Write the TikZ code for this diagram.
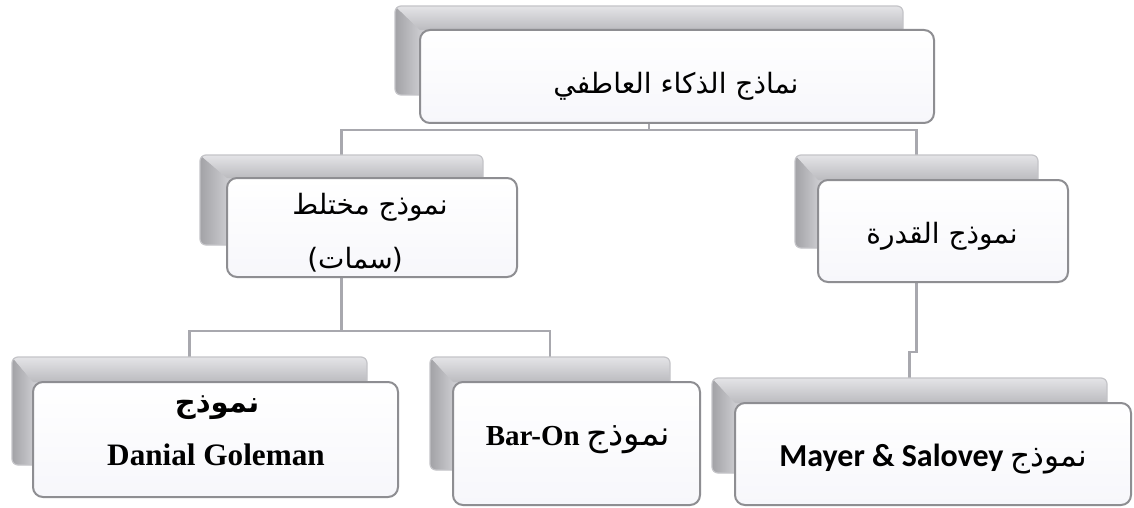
\documentclass[tikz,border=0pt]{standalone}
\usepackage{fontspec}
\usetikzlibrary{calc}
\TeXXeTstate=1
\newfontfamily\arabicfont[Script=Arabic]{DejaVu Sans}
\newfontfamily\plainsans{DejaVu Sans}
\newfontfamily\timesfont{Liberation Serif}
\newfontfamily\calibrifont{Carlito}
\definecolor{conncol}{HTML}{A8A8AE}
\definecolor{frontborder}{HTML}{8E8E92}
\definecolor{frontfill}{HTML}{F7F7FB}
\definecolor{backdark}{HTML}{A2A2A6}
\definecolor{backmid}{HTML}{CBCBCF}
\definecolor{backedge}{HTML}{C4C4C8}
\definecolor{bevtop}{HTML}{E4E4E7}
\definecolor{bevbot}{HTML}{BBBBBF}
\pgfdeclarelayer{bg}
\pgfsetlayers{bg,main}
\newcommand\mybevel[2]{%
  \begin{scope}
    \clip[rounded corners=3pt] (#1.north west) rectangle (#1.south east);
    \fill[backmid] (#1.north west) rectangle (#1.south east);
    \shade[left color=backdark, right color=backmid] (#1.north west) -- (#2.north west) -- (#2.north west |- #1.south) -- (#1.south west) -- cycle;
    \shade[top color=bevtop, bottom color=bevbot] (#1.north west) -- (#1.north east) -- (#1.north east |- #2.north) -- (#2.north west) -- cycle;
  \end{scope}
  \draw[backedge, line width=0.6pt, rounded corners=3pt] (#1.north west) rectangle (#1.south east);
}
\begin{document}
\begin{tikzpicture}[x=0.5pt,y=-0.5pt,
  backbox/.style={inner sep=0pt, outer sep=0pt},
  frontbox/.style={draw=frontborder, line width=1pt, rounded corners=5pt, top color=white, bottom color=frontfill, inner sep=0pt, outer sep=0pt},
  conn/.style={draw=conncol, line width=1.1pt},
  txt/.style={inner sep=0pt, align=center},
  ar/.style={font=\arabicfont\fontsize{14}{27.5}\selectfont}
]
\begin{pgfonlayer}{bg}
\useasboundingbox[fill=white] (0,0) rectangle (1134,508);
\end{pgfonlayer}

% back boxes
\node[backbox, minimum width=254pt, minimum height=44.5pt] (topb) at (649,50.5) {};
\node[backbox, minimum width=141.5pt, minimum height=45pt] (mlb) at (341.5,200) {};
\node[backbox, minimum width=121.5pt, minimum height=46.5pt] (mrb) at (916.5,201.5) {};
\node[backbox, minimum width=177.5pt, minimum height=54pt] (glb) at (189.5,411) {};
\node[backbox, minimum width=120pt, minimum height=56.5pt] (bob) at (550,413.5) {};
\node[backbox, minimum width=197.5pt, minimum height=47.5pt] (mab) at (909.5,425.5) {};

% front box geometry
\path (677,76.5) node[minimum width=257pt, minimum height=46.5pt, inner sep=0pt, outer sep=0pt] (top) {};
\path (372,227.5) node[minimum width=145pt, minimum height=49.5pt, inner sep=0pt, outer sep=0pt] (ml) {};
\path (943,231) node[minimum width=125pt, minimum height=51pt, inner sep=0pt, outer sep=0pt] (mr) {};
\path (215.5,439.5) node[minimum width=182.5pt, minimum height=57.5pt, inner sep=0pt, outer sep=0pt] (gl) {};
\path (576.5,443.5) node[minimum width=123.5pt, minimum height=61.5pt, inner sep=0pt, outer sep=0pt] (bo) {};
\path (933,454) node[minimum width=198pt, minimum height=51pt, inner sep=0pt, outer sep=0pt] (ma) {};

\mybevel{topb}{top}
\mybevel{mlb}{ml}
\mybevel{mrb}{mr}
\mybevel{glb}{gl}
\mybevel{bob}{bo}
\mybevel{mab}{ma}

\coordinate (j1) at (0,130);
\coordinate (j2) at (0,331);
\coordinate (j3) at (0,352);

\begin{pgfonlayer}{bg}
  \draw[conn] (topb.south) -- (topb.south |- j1);
  \draw[conn] (mlb.north) |- (topb.south |- j1) -| (mrb.north);
  \draw[conn] (mlb.south) -- (mlb.south |- j2);
  \draw[conn] (glb.north) |- (mlb.south |- j2) -| (bob.north);
  \draw[conn] (mrb.south) -- (mrb.south |- j3) -| (mab.north);
\end{pgfonlayer}

% front boxes
\foreach \n in {top,ml,mr,gl,bo,ma}{
  \draw[frontbox] (\n.north west) rectangle (\n.south east);
}

% texts
\node[txt, ar] (toptext) at (676,86) {\beginR نماذج الذكاء العاطفي\endR};
\node[txt, ar] (mltext1) at (370,207) {\beginR نموذج مختلط\endR};
\node[txt, font=\fontsize{14}{17}\selectfont] (mltext2) at (355,260) {{\plainsans(}{\arabicfont سمات}\kern-0.5pt{\plainsans)}};
\node[txt, ar] (mrtext) at (942,236) {\beginR نموذج القدرة\endR};
\node[txt, font=\arabicfont\bfseries\fontsize{14.5}{17}\selectfont] (gltext1) at (217,408) {\beginR نموذج\endR};
\node[txt, font=\timesfont\bfseries\fontsize{15.6}{18}\selectfont] (gltext2) at (216,455) {Danial Goleman};
\node[txt] (botext) at (578,440) {{\timesfont\bfseries\fontsize{14.5}{17}\selectfont Bar-On} {\arabicfont\fontsize{17}{20}\selectfont\beginR نموذج\endR}};
\node[txt] (matext) at (933,459) {{\calibrifont\bfseries\fontsize{16}{19}\selectfont Mayer \& Salovey} {\arabicfont\fontsize{15.5}{18}\selectfont\beginR نموذج\endR}};
\end{tikzpicture}
\end{document}
